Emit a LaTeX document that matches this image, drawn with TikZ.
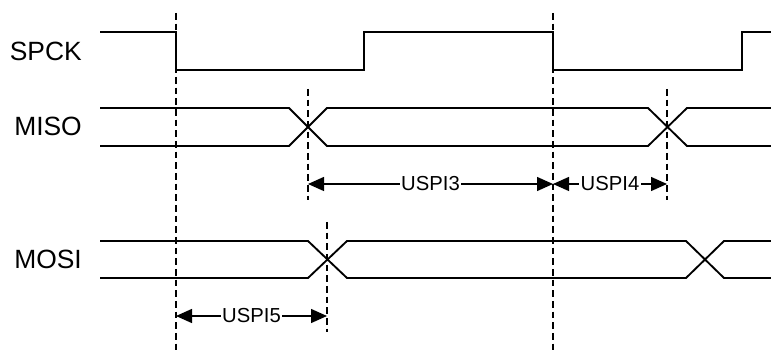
\documentclass[tikz,border=0pt]{standalone}
\usepackage{fontspec}
\setmainfont{Liberation Sans}
\usetikzlibrary{arrows.meta}

\tikzset{
  clockline/.style={line width=1.9pt},
  busline/.style={line width=1.4pt},
  markline/.style={line width=1.4pt, dash pattern=on 5pt off 3pt},
  dimarrow/.style={line width=1pt, {Triangle[length=12pt,width=10.5pt]}-{Triangle[length=12pt,width=10.5pt]}},
  dimlabel/.style={fill=white, inner sep=1pt, font=\fontsize{15.2}{18}\selectfont},
  siglabel/.style={anchor=east, inner sep=0pt, font=\fontsize{19.8}{23}\selectfont}
}

\begin{document}
\begin{tikzpicture}[x=0.75pt, y=-0.75pt]
  \useasboundingbox (0,0) rectangle (771,352);

  % Signal names
  \node[siglabel] (spck) at (82,51) {SPCK};
  \node[siglabel] (miso) at (82,126) {MISO};
  \node[siglabel] (mosi) at (82,259) {MOSI};

  % Clock
  \draw[clockline] (100,32) -- (176,32) -- (176,70) -- (364,70) -- (364,32)
    -- (553,32) -- (553,70) -- (742,70) -- (742,32) -- (771,32);

  % MISO bus
  \draw[busline] (100,108) -- (289,108) -- (327,146) -- (648,146) -- (687,108) -- (771,108);
  \draw[busline] (100,146) -- (289,146) -- (327,108) -- (648,108) -- (687,146) -- (771,146);

  % MOSI bus
  \draw[busline] (100,241) -- (308,241) -- (347,278) -- (686,278) -- (724,241) -- (771,241);
  \draw[busline] (100,278) -- (308,278) -- (347,241) -- (686,241) -- (724,278) -- (771,278);

  % Reference marks
  \draw[markline] (176,13) -- (176,352);
  \draw[markline] (553,13) -- (553,352);
  \draw[markline] (308,89) -- (308,200);
  \draw[markline] (667,89) -- (667,200);
  \draw[markline] (327,222) -- (327,332);

  % Timing intervals
  \coordinate (t3a) at (308,184);
  \coordinate (t3b) at (553,184);
  \coordinate (t4b) at (667,184);
  \coordinate (t5a) at (176,316);
  \coordinate (t5b) at (327,316);

  \draw[dimarrow] (t3a) -- node[dimlabel] (uspi3) {USPI3} (t3b);
  \draw[dimarrow] (t3b) -- node[dimlabel] (uspi4) {USPI4} (t4b);
  \draw[dimarrow] (t5a) -- node[dimlabel] (uspi5) {USPI5} (t5b);
\end{tikzpicture}
\end{document}
